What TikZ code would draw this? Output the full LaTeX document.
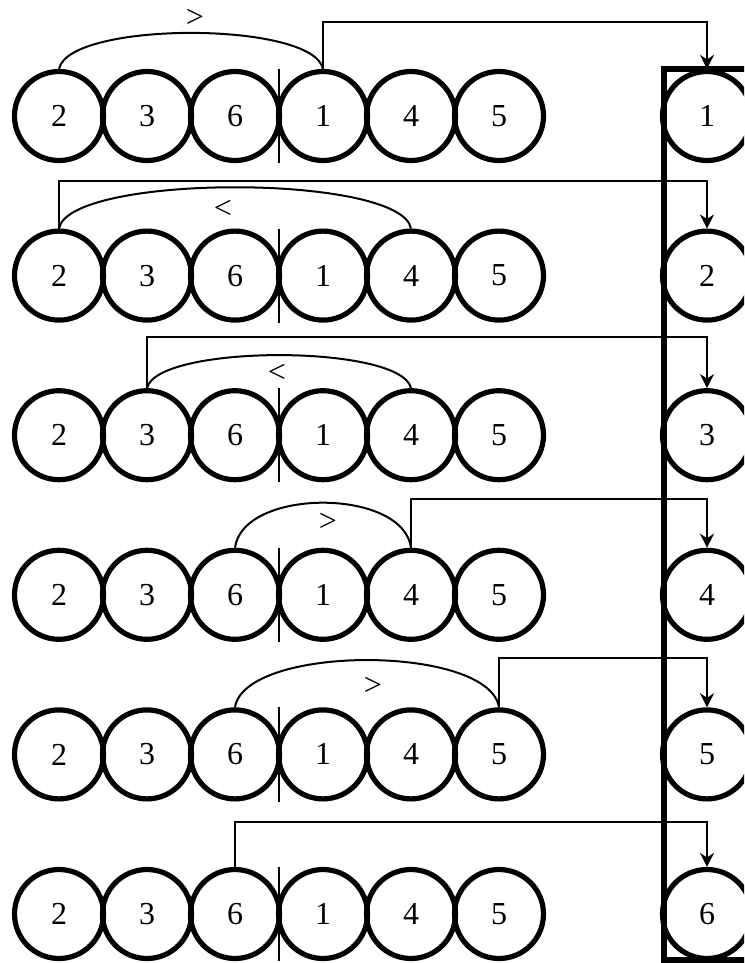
\documentclass[tikz,border=0pt]{standalone}
\usepackage{fontspec}
\setmainfont{Liberation Serif}
\usetikzlibrary{arrows.meta,calc}

\begin{document}
\begin{tikzpicture}[
  x=1pt, y=-1pt,
  font=\fontsize{32}{38}\selectfont,
  ball/.style={circle, draw=black, line width=5.2pt, minimum size=89pt, inner sep=0pt},
  queue/.style={rectangle, draw=black, line width=5.5pt, outer sep=0pt, anchor=north west,
                minimum width=120pt, minimum height=891pt},
  arrow/.style={-{Stealth[length=14pt, width=14pt, inset=4.5pt]}, line width=2pt},
  bow/.style={line width=2pt},
  cut/.style={line width=2pt},
  sign/.style={inner sep=0pt}
]
\useasboundingbox (0,0) rectangle (744,963);
\clip (0,0) rectangle (744,963);

\node[queue] (queue) at (664,69) {};

% rows of the sequence, with the sorted column on the right
\foreach \r in {1,...,6}{
  \pgfmathsetmacro{\rowy}{116+159.6*(\r-1)}
  \foreach \v [count=\c] in {2,3,6,1,4,5}
    \node[ball] (s\r\c) at ({59+88*(\c-1)},\rowy) {\v};
  \node[ball] (q\r) at (707,\rowy) {\r};
  \draw[cut] ($(s\r3.north)!0.5!(s\r4.north)$) -- ($(s\r3.south)!0.5!(s\r4.south)$);
}

% row 1
\draw[bow] (s11.north) .. controls +(10,-48) and +(-10,-48) .. (s14.north);
\node[sign] (c1) at (195,18) {>};
\draw[arrow] (s14.north) -- ++(0,-47) -| (q1.north);

% row 2
\draw[bow] (s21.north) .. controls +(10,-55) and +(-10,-55) .. (s25.north);
\node[sign] (c2) at (223,209) {<};
\draw[arrow] (s21.north) -- ++(0,-48) -| (q2.north);

% row 3
\draw[bow] (s32.north) .. controls +(10,-44) and +(-10,-44) .. (s35.north);
\node[sign] (c3) at (277,373) {<};
\draw[arrow] (s32.north) -- ++(0,-51) -| (q3.north);

% row 4
\draw[bow] (s43.north) .. controls +(8,-60) and +(-8,-60) .. (s45.north);
\node[sign] (c4) at (328,522) {>};
\draw[arrow] (s45.north) -- ++(0,-49) -| (q4.north);

% row 5
\draw[bow] (s53.north) .. controls +(10,-63) and +(-10,-63) .. (s56.north);
\node[sign] (c5) at (373,686) {>};
\draw[arrow] (s56.north) -- ++(0,-49) -| (q5.north);

% row 6
\draw[arrow] (s63.north) -- ++(0,-45) -| (q6.north);
\end{tikzpicture}
\end{document}
